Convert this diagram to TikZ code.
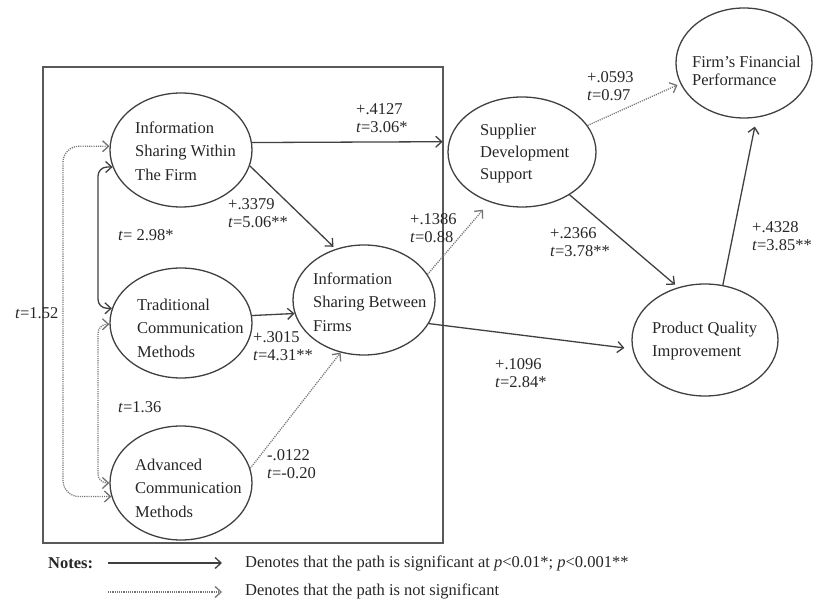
\documentclass[tikz,border=0pt]{standalone}
\usepackage{fontspec}
\setmainfont{Liberation Serif}
\usetikzlibrary{arrows.meta,shapes.geometric}
\begin{document}
\begin{tikzpicture}[x=1pt,y=-1pt,
  every node/.style={text=black!85},
  construct/.style={draw=black!75, line width=1.3pt, ellipse, inner sep=0pt},
  ctext/.style={anchor=west, align=left, inner sep=0pt, font=\fontsize{16.5}{23.5}\selectfont},
  coef/.style={anchor=west, align=left, inner sep=0pt, font=\fontsize{16.5}{17.5}\selectfont},
  tip/.style={-{Straight Barb[length=6pt,width=11pt]}},
  bothtips/.style={{Straight Barb[length=6pt,width=11pt]}-{Straight Barb[length=6pt,width=11pt]}},
  sig/.style={draw=black!75, line width=1.3pt},
  nonsig/.style={draw=black!55, line width=1.3pt, dash pattern=on 1.1pt off 1.1pt},
]
\useasboundingbox (0,0) rectangle (815,601);

% frame round the four information-sharing constructs
\draw[black!65, line width=1.5pt] (43,67) rectangle (443,543);

% constructs
\node[construct, minimum width=142pt, minimum height=114pt] (iswf) at (181,150) {};
\node[construct, minimum width=142pt, minimum height=110pt] (tcm)  at (181,323) {};
\node[construct, minimum width=142pt, minimum height=114pt] (acm)  at (181,483) {};
\node[construct, minimum width=142pt, minimum height=110pt] (isbf) at (364,300) {};
\node[construct, minimum width=148pt, minimum height=110pt] (sds)  at (522,152) {};
\node[construct, minimum width=136pt, minimum height=110pt] (ffp)  at (744,63) {};
\node[construct, minimum width=146pt, minimum height=112pt] (pqi)  at (705,340) {};

\node[ctext] (iswf-t) at (135,151) {Information\\Sharing Within\\The Firm};
\node[ctext] (tcm-t)  at (137,328) {Traditional\\Communication\\Methods};
\node[ctext] (acm-t)  at (135,488) {Advanced\\Communication\\Methods};
\node[ctext] (isbf-t) at (313,302) {Information\\Sharing Between\\Firms};
\node[ctext, font=\fontsize{16.5}{22}\selectfont] (sds-t) at (480,154) {Supplier\\Development\\Support};
\node[ctext, font=\fontsize{16.5}{18}\selectfont] (ffp-t) at (692,71) {Firm’s Financial\\Performance};
\node[ctext] (pqi-t)  at (652,341) {Product Quality\\Improvement};

% structural paths
\draw[sig, tip, shorten >=6pt] (iswf.6) -- (sds.172);
\draw[sig, tip, shorten >=3pt] (iswf.-13.5) -- (isbf.119.4);
\draw[sig, tip] (tcm.6.5) -- (isbf.191.9);
\draw[nonsig, tip] (acm.12.7) -- (isbf.246.4);
\draw[nonsig, tip, shorten >=10pt] (isbf.22.2) -- (sds.237);
\draw[sig, tip, shorten >=4pt] (sds.-42) -- (pqi.117.8);
\draw[sig, tip, shorten >=8pt] (isbf.-20.7) -- (pqi.187.8);
\draw[sig, tip, shorten >=9pt] (pqi.72.5) -- (ffp.-77.7);
\draw[nonsig, tip, shorten >=3pt] (sds.22) -- (ffp.198.2);

% correlations among the communication constructs
\coordinate (inner-a) at (98,240);
\coordinate (inner-b) at (98,400);
\coordinate (outer) at (63,320);
\draw[sig, bothtips, rounded corners=9pt] (iswf.194) -| (inner-a) |- (tcm.168);
\draw[nonsig, bothtips, rounded corners=9pt] (tcm.181) -| (inner-b) |- (acm.180);
\draw[nonsig, bothtips, rounded corners=16pt] (iswf.177) -| (outer) |- (acm.191);

% path coefficients
\node[coef] (c-4127) at (356,118) {+.4127\\\textit{t}=3.06*};
\node[coef] (c-3379) at (228,213) {+.3379\\\textit{t}=5.06**};
\node[coef] (c-298)  at (118,235) {\textit{t}= 2.98*};
\node[coef] (c-152)  at (15,313)  {\textit{t}=1.52};
\node[coef] (c-136)  at (118,407) {\textit{t}=1.36};
\node[coef] (c-3015) at (253,346) {+.3015\\\textit{t}=4.31**};
\node[coef] (c-0122) at (267,464) {-.0122\\\textit{t}=-0.20};
\node[coef] (c-1386) at (410,228) {+.1386\\\textit{t}=0.88};
\node[coef] (c-0593) at (587,86)  {+.0593\\\textit{t}=0.97};
\node[coef] (c-2366) at (550,242) {+.2366\\\textit{t}=3.78**};
\node[coef] (c-4328) at (752,236) {+.4328\\\textit{t}=3.85**};
\node[coef] (c-1096) at (495,373) {+.1096\\\textit{t}=2.84*};

% legend
\node[coef, font=\fontsize{16.5}{17}\selectfont\bfseries] (notes) at (48,563) {Notes:};
\coordinate (ls1) at (108,563);
\coordinate (le1) at (222,563);
\coordinate (ls2) at (108,592);
\coordinate (le2) at (222,592);
\draw[sig, tip] (ls1) -- (le1);
\draw[nonsig, tip] (ls2) -- (le2);
\node[coef] (note-sig) at (245,563) {Denotes that the path is significant at \textit{p}<0.01*; \textit{p}<0.001**};
\node[coef] (note-ns)  at (245,591) {Denotes that the path is not significant};
\end{tikzpicture}
\end{document}
